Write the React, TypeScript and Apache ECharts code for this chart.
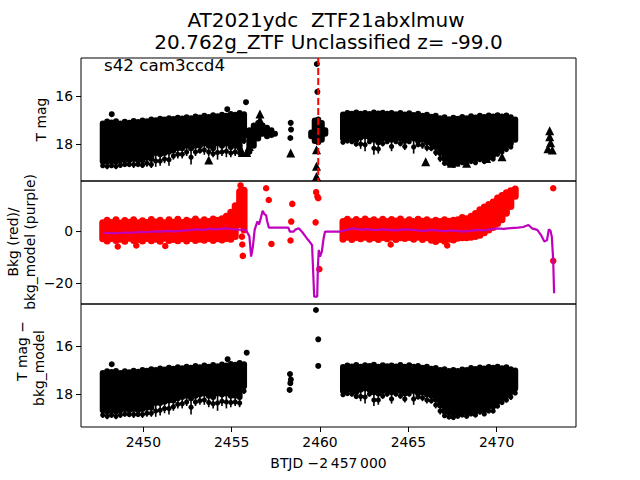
import React, { useEffect, useRef } from 'react';
import * as echarts from 'echarts';

const X_MIN = 2446.47;
const X_MAX = 2474.49;
const xTicks = [2450, 2455, 2460, 2465, 2470];
const magTicks = [16, 18];
const bkgTicks = [-20, 0];
const eventX = 2459.9;

// bin centres of the two observing segments
const seg1X = [2447.7, 2447.95, 2448.2, 2448.45, 2448.7, 2448.95, 2449.2, 2449.45, 2449.7, 2449.95, 2450.2, 2450.45, 2450.7, 2450.95, 2451.2, 2451.45, 2451.7, 2451.95, 2452.2, 2452.45, 2452.7, 2452.95, 2453.2, 2453.45, 2453.7, 2453.95, 2454.2, 2454.45, 2454.7, 2454.95, 2455.2, 2455.45, 2455.7];
const seg2X = [2461.3, 2461.55, 2461.8, 2462.05, 2462.3, 2462.55, 2462.8, 2463.05, 2463.3, 2463.55, 2463.8, 2464.05, 2464.3, 2464.55, 2464.8, 2465.05, 2465.3, 2465.55, 2465.8, 2466.05, 2466.3, 2466.55, 2466.8, 2467.05, 2467.3, 2467.55, 2467.8, 2468.05, 2468.3, 2468.55, 2468.8, 2469.05, 2469.3, 2469.55, 2469.8, 2470.05, 2470.3, 2470.55, 2470.8, 2471.05];

// Panel 1: T mag envelope (bright edge, dense faint edge, error-bar extent)
const magTop1 = [17.02, 16.94, 16.98, 16.93, 17.02, 16.95, 16.99, 16.92, 16.96, 16.9, 16.93, 16.86, 16.89, 16.82, 16.86, 16.8, 16.83, 16.78, 16.81, 16.76, 16.8, 16.73, 16.77, 16.7, 16.75, 16.68, 16.72, 16.66, 16.7, 16.63, 16.66, 16.58, 16.64];
const magBot1 = [18.85, 18.85, 18.85, 18.85, 18.8, 18.8, 18.8, 18.75, 18.8, 18.8, 18.7, 18.75, 18.5, 18.55, 18.5, 18.45, 18.4, 18.3, 18.3, 18.2, 18.3, 18.2, 18.2, 18.1, 18.2, 18.3, 18.1, 18.2, 18.1, 18.25, 18.2, 18.3, 17.8];
const magWhisk1 = [19.0, 19.05, 19.0, 19.05, 19.0, 18.95, 18.95, 19.0, 18.95, 19.0, 18.95, 19.0, 18.95, 18.9, 18.8, 18.9, 18.65, 18.6, 18.6, 18.5, 18.85, 18.5, 18.4, 18.45, 18.5, 18.55, 18.65, 18.5, 18.55, 18.55, 18.5, 18.5, 18.0];
const magTop2 = [16.65, 16.58, 16.62, 16.56, 16.62, 16.58, 16.63, 16.56, 16.61, 16.57, 16.62, 16.58, 16.64, 16.58, 16.65, 16.6, 16.67, 16.62, 16.7, 16.66, 16.74, 16.7, 16.8, 16.76, 16.84, 16.78, 16.82, 16.75, 16.8, 16.72, 16.77, 16.7, 16.75, 16.69, 16.73, 16.68, 16.73, 16.69, 16.76, 16.85];
const magBot2 = [17.9, 17.85, 17.85, 17.95, 17.85, 17.8, 17.85, 17.95, 18.05, 17.9, 17.85, 17.95, 17.85, 17.9, 18.0, 17.85, 17.9, 18.0, 17.95, 18.05, 18.1, 18.25, 18.5, 18.75, 18.8, 18.85, 18.8, 18.75, 18.8, 18.7, 18.75, 18.6, 18.7, 18.55, 18.6, 18.4, 18.3, 18.2, 18.1, 17.95];
const magWhisk2 = [18.0, 17.95, 18.0, 18.1, 18.2, 18.3, 18.0, 18.45, 18.4, 18.1, 18.0, 18.3, 18.0, 18.1, 18.25, 18.0, 18.4, 18.1, 18.2, 18.3, 18.3, 18.5, 18.75, 18.9, 18.95, 18.95, 18.9, 18.85, 18.9, 18.8, 18.85, 18.75, 18.8, 18.7, 18.7, 18.5, 18.4, 18.3, 18.2, 18.0];
// Panel 1: clusters inside the gap
const gapX = [2456.0, 2456.25, 2456.5, 2456.75, 2457.0, 2457.25, 2457.45, 2459.5, 2459.7, 2459.9, 2460.1, 2460.3];
const gapTop = [17.3, 17.1, 17.0, 17.1, 17.2, 17.3, 17.45, 17.4, 16.9, 16.85, 17.0, 17.3];
const gapBot = [18.45, 18.2, 17.9, 17.7, 17.8, 17.75, 17.7, 17.8, 18.0, 18.05, 17.95, 17.7];
// Panel 1: upper limits (triangles) and single points
const limitX = [2453.7, 2455.6, 2455.85, 2456.0, 2456.1, 2456.2, 2456.5, 2456.55, 2456.6, 2456.6, 2458.34, 2459.8, 2459.8, 2459.8, 2465.98, 2467.45, 2467.7, 2468.3, 2469.43, 2470.3, 2473.0, 2473.0, 2473.05, 2472.9, 2473.15];
const limitY = [18.67, 18.35, 18.35, 18.1, 17.85, 17.55, 17.5, 17.25, 17.0, 16.75, 18.37, 18.24, 18.93, 19.35, 18.74, 18.8, 18.75, 18.8, 18.6, 18.53, 17.45, 17.7, 17.95, 18.2, 18.25];
const magDotX = [2448.21, 2454.75, 2455.81, 2458.34, 2458.36, 2458.32, 2459.82, 2459.85, 2456.9, 2457.2];
const magDotY = [16.76, 16.55, 16.26, 17.12, 17.4, 17.75, 14.67, 15.83, 17.35, 17.5];

// Panel 2: background flux envelope and model
const bkgTop1 = [4.5, 5.5, 4.6, 5.6, 4.4, 5.4, 4.7, 5.6, 4.5, 5.3, 4.6, 5.7, 4.8, 5.5, 4.5, 5.6, 4.7, 5.8, 4.6, 5.5, 4.9, 5.9, 4.8, 5.6, 5.0, 5.9, 5.5, 6.0, 7.0, 8.5, 11.0, 16.5, 17.0];
const bkgBot1 = [-4.4, -5.2, -4.3, -5.0, -4.5, -5.3, -4.2, -5.0, -4.6, -5.2, -4.3, -5.1, -4.5, -5.3, -4.2, -5.0, -4.6, -5.1, -4.4, -5.2, -4.3, -5.0, -4.5, -4.9, -4.3, -5.0, -4.4, -4.8, -4.3, -4.5, -3.5, 1.0, -1.0];
const bkgTop2 = [5.0, 5.8, 4.9, 5.7, 5.0, 5.9, 5.1, 5.6, 4.9, 5.8, 5.0, 5.7, 5.2, 5.9, 4.9, 5.6, 5.0, 5.8, 5.1, 5.6, 4.9, 5.5, 5.0, 5.6, 5.1, 5.5, 5.6, 6.5, 6.0, 7.0, 8.0, 9.5, 10.5, 11.5, 12.5, 14.0, 15.0, 16.0, 16.8, 17.5];
const bkgBot2 = [-4.5, -3.8, -4.6, -3.9, -4.4, -3.8, -4.5, -4.0, -4.6, -3.9, -4.4, -3.8, -4.6, -4.0, -4.3, -3.9, -4.5, -3.8, -4.6, -4.0, -4.9, -5.4, -4.6, -5.3, -4.5, -4.8, -4.2, -4.0, -4.0, -3.8, -3.5, -3.0, -2.0, -1.0, 0.0, 1.5, 3.0, 5.5, 8.0, 12.0];
const bkgDotX = [2448.55, 2449.6, 2451.24, 2455.58, 2455.6, 2455.63, 2455.5, 2456.95, 2457.1, 2457.25, 2458.43, 2458.37, 2458.33, 2459.78, 2459.85, 2459.9, 2459.75, 2459.96, 2473.2, 2473.2, 2467.2, 2464.0];
const bkgDotY = [-6.0, -5.6, -5.8, -2.2, -5.2, -9.6, 17.5, 16.4, 11.9, -5.0, 10.4, 3.6, -3.7, 14.9, 13.2, 12.6, 3.3, -14.7, 16.4, -11.5, -5.6, -5.2];
const modelX = [2447.7, 2448.0, 2448.3, 2448.6, 2449.0, 2449.4, 2449.8, 2450.2, 2450.6, 2451.0, 2451.4, 2451.8, 2452.2, 2452.6, 2453.0, 2453.4, 2453.8, 2454.2, 2454.6, 2455.0, 2455.4, 2455.8, 2456.0, 2456.1, 2456.2, 2456.3, 2456.45, 2456.55, 2456.65, 2456.75, 2456.85, 2456.95, 2457.0, 2457.1, 2457.6, 2458.2, 2458.3, 2458.5, 2458.6, 2458.8, 2459.0, 2459.25, 2459.45, 2459.55, 2459.6, 2459.67, 2459.84, 2459.88, 2459.93, 2460.0, 2460.1, 2460.2, 2460.28, 2461.1, 2461.5, 2461.9, 2462.3, 2462.7, 2463.1, 2463.5, 2463.9, 2464.3, 2464.7, 2465.1, 2465.5, 2465.9, 2466.3, 2466.7, 2467.1, 2467.5, 2467.9, 2468.1, 2468.5, 2468.9, 2469.3, 2469.7, 2470.0, 2470.4, 2470.8, 2471.2, 2471.5, 2471.8, 2472.0, 2472.3, 2472.5, 2472.7, 2472.85, 2472.95, 2473.05, 2473.12, 2473.2, 2473.25];
const modelY = [-0.5, -0.9, -0.8, -0.9, -0.6, -0.7, -0.4, -0.5, -0.2, -0.3, 0.0, -0.2, 0.1, 0.3, 0.6, 0.4, 0.8, 0.6, 1.0, 0.7, 0.5, 0.4, -2.0, -9.9, -6.0, 0.4, 3.6, 2.5, 5.0, 7.8, 6.5, 6.0, 4.0, 1.3, 1.3, 1.3, -0.3, -0.3, 0.5, 1.0, -0.5, -2.8, -4.5, -5.5, -13.7, -25.3, -25.3, -13.7, -7.3, -9.9, -8.0, -3.0, -0.3, -0.3, 0.4, 1.0, 0.5, 0.7, 0.3, 0.6, 0.4, 0.2, 0.6, 0.5, 0.2, 0.0, 0.4, 0.1, -0.1, 0.2, -0.1, -0.3, 0.0, 0.4, 0.2, 0.7, 1.0, 0.8, 1.1, 1.3, 1.5, 2.3, 1.0, 0.4, -1.5, -4.1, -3.5, 0.6, 0.0, -2.2, -11.2, -24.0];

// Panel 3: T mag - bkg_model envelope and single points
const resTop1 = [17.0, 16.93, 16.96, 16.92, 17.0, 16.93, 16.97, 16.91, 16.95, 16.88, 16.91, 16.84, 16.88, 16.81, 16.85, 16.78, 16.82, 16.76, 16.8, 16.74, 16.78, 16.71, 16.76, 16.69, 16.74, 16.67, 16.72, 16.65, 16.69, 16.62, 16.66, 16.58, 16.64];
const resBot1 = [18.8, 18.85, 18.8, 18.85, 18.8, 18.75, 18.8, 18.75, 18.8, 18.75, 18.7, 18.7, 18.5, 18.5, 18.45, 18.4, 18.4, 18.3, 18.25, 18.2, 18.3, 18.2, 18.15, 18.1, 18.2, 18.25, 18.1, 18.15, 18.1, 18.2, 18.2, 18.25, 17.8];
const resWhisk1 = [19.0, 19.05, 19.0, 19.05, 19.0, 18.95, 18.95, 19.0, 18.95, 19.0, 18.95, 18.95, 18.95, 18.9, 18.8, 18.85, 18.7, 18.6, 18.6, 18.5, 18.85, 18.5, 18.45, 18.45, 18.55, 18.6, 18.7, 18.5, 18.6, 18.55, 18.5, 18.55, 18.0];
const resTop2 = [16.75, 16.69, 16.73, 16.67, 16.74, 16.68, 16.71, 16.66, 16.74, 16.68, 16.72, 16.69, 16.73, 16.67, 16.74, 16.68, 16.74, 16.71, 16.78, 16.74, 16.82, 16.79, 16.87, 16.84, 16.92, 16.88, 16.92, 16.85, 16.88, 16.79, 16.83, 16.77, 16.81, 16.75, 16.78, 16.74, 16.8, 16.76, 16.84, 16.9];
const resBot2 = [18.0, 17.95, 17.95, 18.05, 17.95, 17.9, 17.95, 18.05, 18.1, 18.0, 17.95, 18.05, 17.95, 18.0, 18.1, 17.95, 18.0, 18.1, 18.05, 18.15, 18.2, 18.35, 18.6, 18.85, 18.9, 18.95, 18.9, 18.85, 18.9, 18.8, 18.85, 18.7, 18.8, 18.65, 18.65, 18.45, 18.3, 18.2, 18.05, 17.9];
const resWhisk2 = [18.1, 18.05, 18.1, 18.2, 18.3, 18.4, 18.1, 18.5, 18.45, 18.2, 18.1, 18.4, 18.1, 18.2, 18.35, 18.1, 18.45, 18.2, 18.3, 18.4, 18.4, 18.6, 18.85, 19.0, 19.05, 19.05, 19.0, 18.95, 19.0, 18.9, 18.95, 18.85, 18.9, 18.8, 18.8, 18.6, 18.45, 18.35, 18.25, 18.05];
const resDotX = [2448.21, 2454.77, 2455.85, 2458.3, 2458.35, 2458.32, 2458.28, 2459.77, 2459.9, 2459.9];
const resDotY = [16.76, 16.55, 16.28, 17.17, 17.4, 17.55, 17.83, 14.5, 15.72, 16.83];

const FONT = 'DejaVu Sans';

function band(xs: number[], tops: number[], bots: number[], whisks?: number[]) {
  return xs.map((x, i) => [x, tops[i], bots[i], whisks ? whisks[i] : bots[i]]);
}
function pts(xs: number[], ys: number[]) {
  return xs.map((x, i) => [x, ys[i]]);
}

function bandRenderer(width: number, color: string) {
  return (params: any, api: any) => {
    const x = api.value(0);
    const a = api.coord([x, api.value(1)]);
    const b = api.coord([x, api.value(2)]);
    const c = api.coord([x, api.value(3)]);
    const r = width / 2;
    let y1 = Math.min(a[1], b[1]) + r;
    let y2 = Math.max(a[1], b[1]) - r;
    if (y2 < y1) {
      const m = (y1 + y2) / 2;
      y1 = m;
      y2 = m;
    }
    const children: any[] = [
      { type: 'line', shape: { x1: a[0], y1, x2: a[0], y2 }, style: { stroke: color, lineWidth: width, lineCap: 'round' } },
    ];
    if (Math.abs(c[1] - b[1]) > 2) {
      children.push({ type: 'line', shape: { x1: a[0], y1: y2, x2: a[0], y2: c[1] }, style: { stroke: color, lineWidth: 1.6 } });
      children.push({ type: 'circle', shape: { cx: a[0], cy: (y2 + c[1]) / 2 + 1, r: 2.6 }, style: { fill: color } });
    }
    return { type: 'group', children };
  };
}

const minus = (v: number) => String(v).replace('-', '\u2212');

function yAxis(i: number, min: number, max: number, inverse: boolean, ticks: number[]) {
  return {
    gridIndex: i, type: 'value', min, max, inverse,
    axisLine: { show: false }, splitLine: { show: false },
    axisTick: { show: true, length: 5, lineStyle: { color: '#000', width: 1 }, customValues: ticks },
    axisLabel: { customValues: ticks, color: '#000', fontSize: 13.9, fontFamily: FONT, margin: 8, formatter: minus },
  };
}
function xAxis(i: number) {
  const last = i === 2;
  return {
    gridIndex: i, type: 'value', min: X_MIN, max: X_MAX,
    axisLine: { show: false }, splitLine: { show: false },
    axisTick: { show: last, length: 5, lineStyle: { color: '#000', width: 1 }, customValues: xTicks },
    axisLabel: { show: last, customValues: xTicks, color: '#000', fontSize: 13.9, fontFamily: FONT, margin: 8, formatter: (v: number) => String(v) },
  };
}

function txt(x: number, y: number, text: string, size: number, rot = 0, align = 'center') {
  return {
    type: 'text', x, y, rotation: rot,
    style: { text, fontSize: size, fontFamily: FONT, fill: '#000', align, verticalAlign: 'middle' },
  };
}

export default function App() {
  const ref = useRef<HTMLDivElement>(null);
  useEffect(() => {
    if (!ref.current) return;
    const chart = echarts.init(ref.current, undefined, { renderer: 'svg' });
    const gridBase = { left: 81, width: 495, height: 123, show: true, borderColor: '#000', borderWidth: 1, backgroundColor: 'transparent', outerBoundsMode: 'none', containLabel: false };
    const option: any = {
      animation: false,
      textStyle: { fontFamily: FONT },
      grid: [
        { ...gridBase, top: 58 },
        { ...gridBase, top: 181 },
        { ...gridBase, top: 304 },
      ],
      xAxis: [xAxis(0), xAxis(1), xAxis(2)],
      yAxis: [
        yAxis(0, 14.42, 19.54, true, magTicks),
        yAxis(1, -28.1, 19.2, false, bkgTicks),
        yAxis(2, 14.25, 19.375, true, magTicks),
      ],
      series: [
        {
          type: 'custom', xAxisIndex: 0, yAxisIndex: 0, silent: true,
          renderItem: bandRenderer(6, '#000'),
          encode: { x: 0, y: [1, 2, 3] },
          data: [...band(seg1X, magTop1, magBot1, magWhisk1), ...band(seg2X, magTop2, magBot2, magWhisk2), ...band(gapX, gapTop, gapBot)],
        },
        {
          type: 'scatter', xAxisIndex: 0, yAxisIndex: 0, silent: true, symbol: 'triangle', symbolSize: 9,
          itemStyle: { color: '#000', opacity: 1 }, data: pts(limitX, limitY),
        },
        {
          type: 'scatter', xAxisIndex: 0, yAxisIndex: 0, silent: true, symbol: 'circle', symbolSize: 6,
          itemStyle: { color: '#000', opacity: 1 }, data: pts(magDotX, magDotY),
        },
        {
          type: 'line', xAxisIndex: 0, yAxisIndex: 0, silent: true, showSymbol: false, symbol: 'none',
          lineStyle: { color: '#ff0000', width: 2, type: [7, 3] },
          data: [[eventX, 14.42], [eventX, 19.54]],
        },
        {
          type: 'custom', xAxisIndex: 1, yAxisIndex: 1, silent: true,
          renderItem: bandRenderer(7, '#ff0000'),
          encode: { x: 0, y: [1, 2, 3] },
          data: [...band(seg1X, bkgTop1, bkgBot1), ...band(seg2X, bkgTop2, bkgBot2)],
        },
        {
          type: 'scatter', xAxisIndex: 1, yAxisIndex: 1, silent: true, symbol: 'circle', symbolSize: 6.5,
          itemStyle: { color: '#ff0000', opacity: 1 }, data: pts(bkgDotX, bkgDotY),
        },
        {
          type: 'line', xAxisIndex: 1, yAxisIndex: 1, silent: true, showSymbol: false, symbol: 'none',
          lineStyle: { color: '#bf00bf', width: 2.2 },
          data: pts(modelX, modelY),
        },
        {
          type: 'custom', xAxisIndex: 2, yAxisIndex: 2, silent: true,
          renderItem: bandRenderer(6, '#000'),
          encode: { x: 0, y: [1, 2, 3] },
          data: [...band(seg1X, resTop1, resBot1, resWhisk1), ...band(seg2X, resTop2, resBot2, resWhisk2)],
        },
        {
          type: 'scatter', xAxisIndex: 2, yAxisIndex: 2, silent: true, symbol: 'circle', symbolSize: 6,
          itemStyle: { color: '#000', opacity: 1 }, data: pts(resDotX, resDotY),
        },
      ],
      graphic: [
        txt(326, 20, 'AT2021ydc \u00a0ZTF21abxlmuw', 20),
        txt(328.5, 42, '20.762g_ZTF Unclassified z= -99.0', 20),
        txt(104, 64.5, 's42 cam3ccd4', 16.7, 0, 'left'),
        txt(41, 119.5, 'T mag', 13.9, Math.PI / 2),
        txt(13, 242, 'Bkg (red)/', 13.9, Math.PI / 2),
        txt(30, 242, 'bkg_model (purple)', 13.9, Math.PI / 2),
        txt(22, 351, 'T mag \u2212', 13.9, Math.PI / 2),
        txt(39, 368, 'bkg_model', 13.9, Math.PI / 2),
        txt(328.5, 463, 'BTJD \u22122\u2009457\u2009000', 13.9),
      ],
    };
    chart.setOption(option);
    return () => chart.dispose();
  }, []);
  return <div ref={ref} style={{ position: 'absolute', left: 0, top: 0, width: 640, height: 480 }} />;
}
